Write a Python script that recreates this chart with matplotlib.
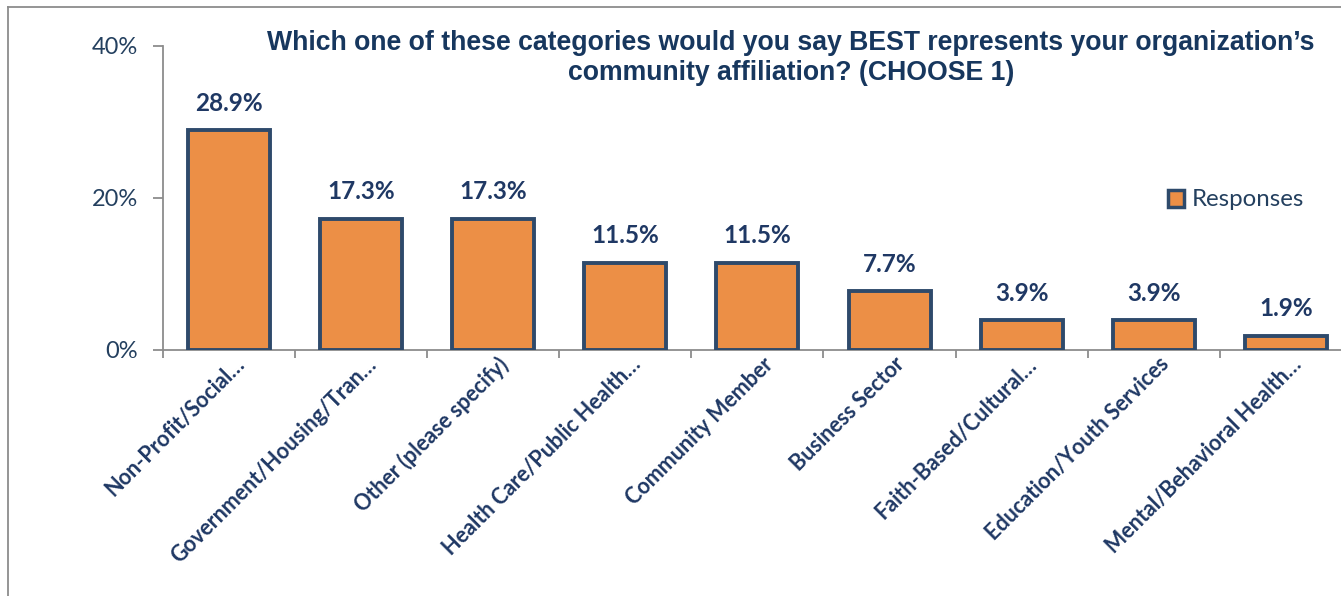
import matplotlib
matplotlib.use("Agg")
import matplotlib.pyplot as plt
from matplotlib.lines import Line2D
from matplotlib.patches import Patch
from matplotlib.ticker import FuncFormatter, FixedLocator, NullFormatter

categories = [
    "Non-Profit/Social…",
    "Government/Housing/Tran…",
    "Other (please specify)",
    "Health Care/Public Health…",
    "Community Member",
    "Business Sector",
    "Faith-Based/Cultural…",
    "Education/Youth Services",
    "Mental/Behavioral Health…",
]
responses = [28.9, 17.3, 17.3, 11.5, 11.5, 7.7, 3.9, 3.9, 1.9]
y_ticks = [0, 20, 40]
title = ("Which one of these categories would you say BEST represents your organization’s\n"
         "community affiliation? (CHOOSE 1)")
series_name = "Responses"

NAVY = "#1F3864"
EDGE = "#2E4A6B"
ORANGE = "#EC8F46"
GRAY = "#8C8C8C"

W, H = 1341, 596
fig = plt.figure(figsize=(W / 100, H / 100), dpi=100)
fig.patch.set_facecolor("white")

# outer frame (left and top edges)
fig.add_artist(Line2D([8 / W, 8 / W], [0, 1 - 7 / H], transform=fig.transFigure, color=GRAY, lw=1.3))
fig.add_artist(Line2D([8 / W, 1], [1 - 7 / H, 1 - 7 / H], transform=fig.transFigure, color=GRAY, lw=1.3))

x0, step = 163, 132.1
ax = fig.add_axes([x0 / W, (H - 350) / H, 9 * step / W, 304 / H])

pos = [i + 0.5 for i in range(len(categories))]
bars = ax.bar(pos, responses, width=0.62, color=ORANGE, edgecolor=EDGE, linewidth=2.8, zorder=3)

for p, v in zip(pos, responses):
    ax.annotate(f"{v:.1f}%", (p, v), xytext=(0, 11), textcoords="offset points",
                ha="center", va="bottom", fontsize=17.5, fontweight="bold",
                color=NAVY, family="Lato")

# rotated category labels, right end just below each bar, slightly right of centre
for p, name in zip(pos, categories):
    ax.annotate(name, (p, 0), xycoords=("data", "axes fraction"),
                xytext=(12, -11), textcoords="offset pixels",
                rotation=45, rotation_mode="anchor", ha="right", va="center",
                fontsize=15.5, fontweight="bold", color=NAVY, family="Lato",
                annotation_clip=False)

ax.set_xlim(0, len(categories))
ax.set_ylim(0, 40)
ax.yaxis.set_major_locator(FixedLocator(y_ticks))
ax.yaxis.set_major_formatter(FuncFormatter(lambda v, _: f"{v:.0f}%"))
ax.xaxis.set_major_locator(FixedLocator(list(range(len(categories) + 1))))
ax.xaxis.set_major_formatter(NullFormatter())
ax.tick_params(axis="x", which="major", length=6, width=1.3, color=GRAY, direction="out")
ax.tick_params(axis="y", length=7, width=1.3, color=GRAY, direction="out", pad=11,
               labelsize=17, labelcolor="#24405F")
for lbl in ax.get_yticklabels():
    lbl.set_family("Lato")

for s in ["top", "right"]:
    ax.spines[s].set_visible(False)
for s in ["left", "bottom"]:
    ax.spines[s].set_color(GRAY)
    ax.spines[s].set_linewidth(1.3)

fig.text(791 / W, 1 - 58 / H, title, ha="center", va="center", fontsize=19.2,
         fontweight="bold", color="#17375E", family="Liberation Sans", linespacing=1.25)

handle = Patch(facecolor=ORANGE, edgecolor=EDGE, linewidth=2.5)
fig.legend([handle], [series_name], loc="center left", bbox_to_anchor=(1146 / W, 1 - 200 / H),
           frameon=False, prop={"family": "Lato", "size": 17.3}, labelcolor="#24405F",
           handlelength=0.7, handleheight=0.7, handletextpad=0.3)

fig.savefig("out.png", dpi=100, facecolor="white")
